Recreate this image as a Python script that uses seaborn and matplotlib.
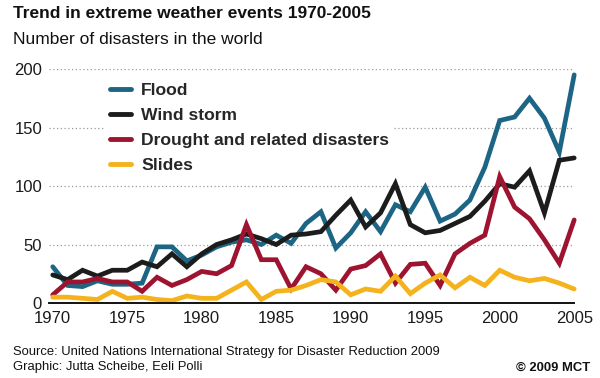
import matplotlib
matplotlib.use("Agg")
import matplotlib.pyplot as plt
import seaborn as sns
import pandas as pd

# Values (number of disasters per year)
years = list(range(1970, 2006))
flood = [31, 15, 14, 19, 16, 16, 17, 48, 48, 36, 41, 48, 52, 54, 50, 58, 51, 68,
         78, 47, 60, 78, 61, 84, 78, 99, 70, 76, 88, 116, 156, 159, 175, 158, 129, 195]
wind_storm = [24, 20, 28, 23, 28, 28, 35, 31, 42, 31, 42, 50, 54, 59, 55, 50, 58, 59,
              61, 75, 88, 65, 77, 102, 67, 60, 62, 68, 74, 87, 102, 99, 113, 77, 122, 124]
drought = [7, 18, 18, 21, 18, 18, 10, 22, 15, 20, 27, 25, 32, 67, 37, 37, 12, 31,
           25, 11, 29, 32, 42, 17, 33, 34, 15, 42, 51, 58, 108, 82, 72, 54, 34, 71]
slides = [5, 5, 4, 3, 10, 4, 5, 3, 2, 6, 4, 4, 11, 18, 3, 10, 11, 15,
          20, 18, 7, 12, 10, 23, 8, 17, 24, 13, 22, 15, 28, 22, 19, 21, 17, 12]

series_names = ["Flood", "Wind storm", "Drought and related disasters", "Slides"]
series_colors = ["#1d6584", "#1c1c1c", "#9e1430", "#f4b31c"]
x_ticks = [1970, 1975, 1980, 1985, 1990, 1995, 2000, 2005]
y_ticks = [0, 50, 100, 150, 200]

# Long format table for seaborn
df = pd.DataFrame({
    "year": years * 4,
    "count": flood + wind_storm + drought + slides,
    "type": [name for name in series_names for _ in years],
})

sns.set_theme(style="white")
plt.rcParams["font.family"] = ["Liberation Sans", "DejaVu Sans"]

fig = plt.figure(figsize=(6, 3.78), dpi=100)
ax = fig.add_axes([0.0817, 0.1984, 0.8753, 0.619])

sns.lineplot(
    data=df, x="year", y="count", hue="type",
    hue_order=series_names,
    palette=dict(zip(series_names, series_colors)),
    linewidth=3.4, ax=ax,
)
for line in ax.lines:
    line.set_clip_on(False)
    line.set_solid_joinstyle("miter")

ax.set_xlim(1969.75, 2005.0)
ax.set_ylim(0, 200)
ax.set_xticks(x_ticks)
ax.set_yticks(y_ticks)
ax.set_xlabel("")
ax.set_ylabel("")
ax.tick_params(axis="both", length=0, labelsize=12, colors="#1a1a1a")
ax.tick_params(axis="x", pad=6)
ax.tick_params(axis="y", pad=5)

# dotted horizontal grid, solid baseline
ax.yaxis.grid(True, linestyle=(0, (1, 2)), color="#9a9a9a", linewidth=0.9)
ax.set_axisbelow(True)
for side in ["top", "right", "left"]:
    ax.spines[side].set_visible(False)
ax.spines["bottom"].set_color("#111111")
ax.spines["bottom"].set_linewidth(1.4)

# legend with white box that hides the grid behind it
handles, labels = ax.get_legend_handles_labels()
leg = ax.legend(
    handles, labels, loc="upper left", bbox_to_anchor=(0.107, 0.965),
    frameon=True, facecolor="white", edgecolor="none", framealpha=1,
    handlelength=1.2, handletextpad=0.55, labelspacing=0.56,
    borderpad=0.3, borderaxespad=0, prop={"weight": "bold", "size": 12.6},
)
for h in leg.get_lines():
    h.set_linewidth(3.5)

# titles and credits
fig.text(0.022, 1 - 14 / 378, "Trend in extreme weather events 1970-2005",
         fontsize=12.5, fontweight="bold", va="center", color="#111111")
fig.text(0.022, 1 - 40 / 378, "Number of disasters in the world",
         fontsize=12.5, va="center", color="#111111")
fig.text(0.022, 1 - 352 / 378,
         "Source: United Nations International Strategy for Disaster Reduction 2009",
         fontsize=9.4, va="center", color="#111111")
fig.text(0.022, 1 - 367 / 378, "Graphic: Jutta Scheibe, Eeli Polli",
         fontsize=9.4, va="center", color="#111111")
fig.text(0.983, 1 - 368 / 378, "\u00a9 2009 MCT", fontsize=9.4, fontweight="bold",
         ha="right", va="center", color="#111111")

fig.savefig("out.png", dpi=100, facecolor="white")
